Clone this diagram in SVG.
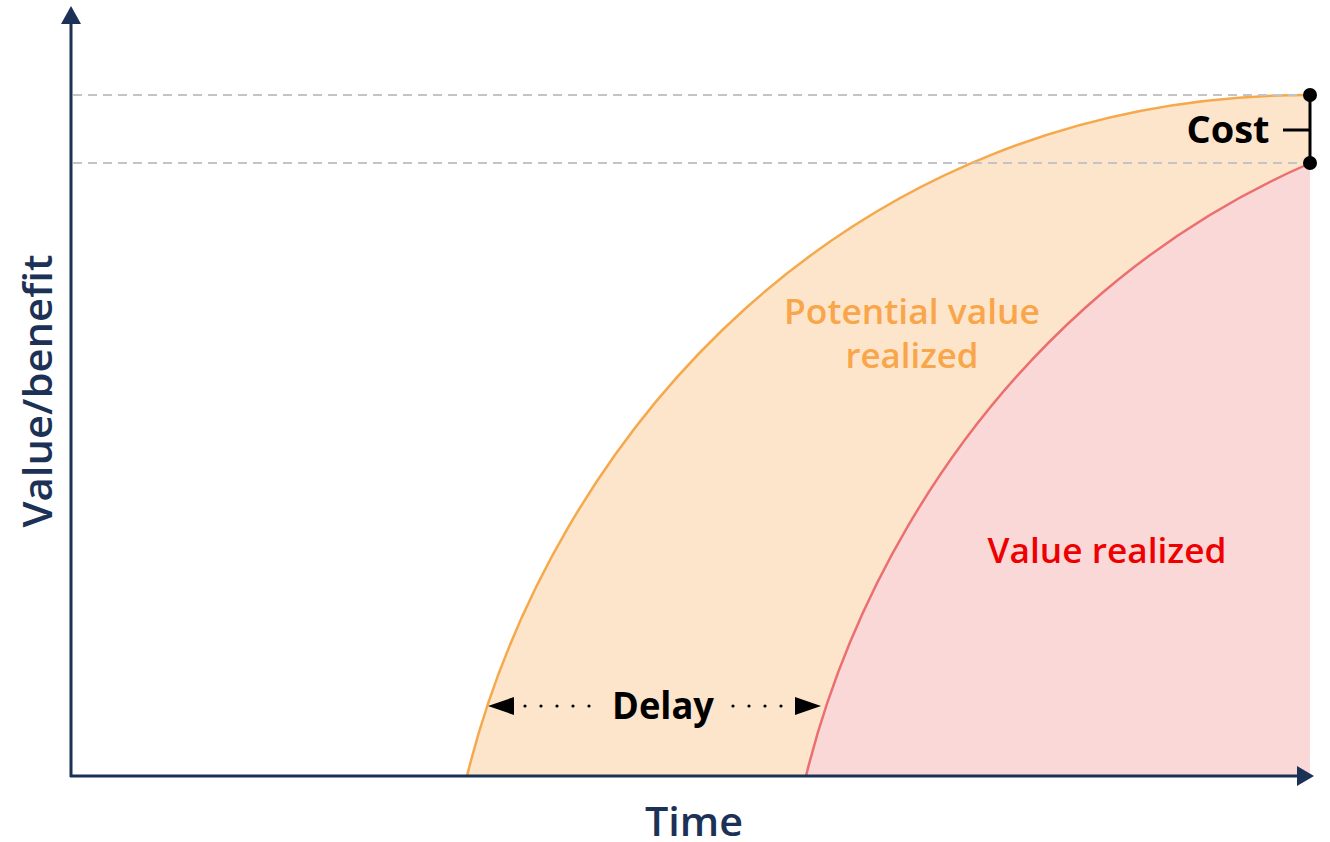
<svg xmlns="http://www.w3.org/2000/svg" width="1330" height="842" viewBox="0 0 1330 842">
<style>
.axis{stroke:#1c3156;stroke-width:3;fill:none}
.axhead{fill:#1c3156}
.axlabel{font-family:"Open Sans","Liberation Sans",sans-serif;font-weight:600;fill:#1c3156}
.guide{stroke:#c4c4c4;stroke-width:2;stroke-dasharray:9 6;fill:none}
.lbl{font-family:"Open Sans","Liberation Sans",sans-serif;font-weight:600;font-size:34px}
.blk{font-family:"Open Sans","Liberation Sans",sans-serif;font-weight:700;font-size:37px;fill:#000}
</style>
<defs>
<clipPath id="clipR"><rect x="0" y="0" width="1310" height="842"/></clipPath>
</defs>
<rect width="1330" height="842" fill="#ffffff"/>
<g id="potential-area">
<path d="M467,776 C551,436 846,95 1310,95 L1310,776 Z" fill="#fde5cc"/>
<path d="M467,776 C551,436 846,95 1310,95" fill="none" stroke="#f5a94c" stroke-width="2.5"/>
</g>
<g id="realized-area" clip-path="url(#clipR)">
<g transform="translate(339,0)">
<path d="M467,776 C551,436 846,95 1310,95 L1310,776 Z" fill="#fbd8d8"/>
<path d="M467,776 C551,436 846,95 1310,95" fill="none" stroke="#ec6f6f" stroke-width="2.5"/>
</g>
</g>
<g id="guides">
<line class="guide" x1="73" y1="95" x2="1310" y2="95"/>
<line class="guide" x1="73" y1="163" x2="1310" y2="163"/>
</g>
<g id="axes">
<line class="axis" x1="71" y1="777" x2="71" y2="22"/>
<polygon class="axhead" points="71,6 61,24 81,24"/>
<line class="axis" x1="70" y1="776" x2="1298" y2="776"/>
<polygon class="axhead" points="1314,776 1297,766 1297,786"/>
<text class="axlabel" x="694" y="836" font-size="40" text-anchor="middle" textLength="98" lengthAdjust="spacingAndGlyphs">Time</text>
<text class="axlabel" x="0" y="0" font-size="40" text-anchor="middle" textLength="273" lengthAdjust="spacingAndGlyphs" transform="translate(52,391) rotate(-90)">Value/benefit</text>
</g>
<g id="labels">
<text class="lbl" x="912" y="324" text-anchor="middle" fill="#f9a54a" textLength="256" lengthAdjust="spacingAndGlyphs">Potential value</text>
<text class="lbl" x="912" y="368" text-anchor="middle" fill="#f9a54a" textLength="133" lengthAdjust="spacingAndGlyphs">realized</text>
<text class="lbl" x="1107" y="563" text-anchor="middle" fill="#ee0000" font-size="35" textLength="239" lengthAdjust="spacingAndGlyphs">Value realized</text>
</g>
<g id="cost">
<line x1="1310" y1="95" x2="1310" y2="163" stroke="#000" stroke-width="3"/>
<line x1="1283" y1="130" x2="1310" y2="130" stroke="#000" stroke-width="3"/>
<circle cx="1310" cy="95" r="7" fill="#000"/>
<circle cx="1310" cy="163" r="7" fill="#000"/>
<text class="blk" x="1228" y="143" text-anchor="middle" textLength="83" lengthAdjust="spacingAndGlyphs">Cost</text>
</g>
<g id="delay">
<polygon points="488,706 514,697 514,715" fill="#000"/>
<polygon points="821,706 795,697 795,715" fill="#000"/>
<g fill="#000">
<circle cx="525" cy="706" r="1.6"/><circle cx="541" cy="706" r="1.6"/><circle cx="557" cy="706" r="1.6"/><circle cx="573" cy="706" r="1.6"/><circle cx="589" cy="706" r="1.6"/>
<circle cx="733" cy="706" r="1.6"/><circle cx="749" cy="706" r="1.6"/><circle cx="765" cy="706" r="1.6"/><circle cx="781" cy="706" r="1.6"/>
</g>
<text class="blk" x="663" y="719" text-anchor="middle" textLength="102" lengthAdjust="spacingAndGlyphs">Delay</text>
</g>
</svg>
